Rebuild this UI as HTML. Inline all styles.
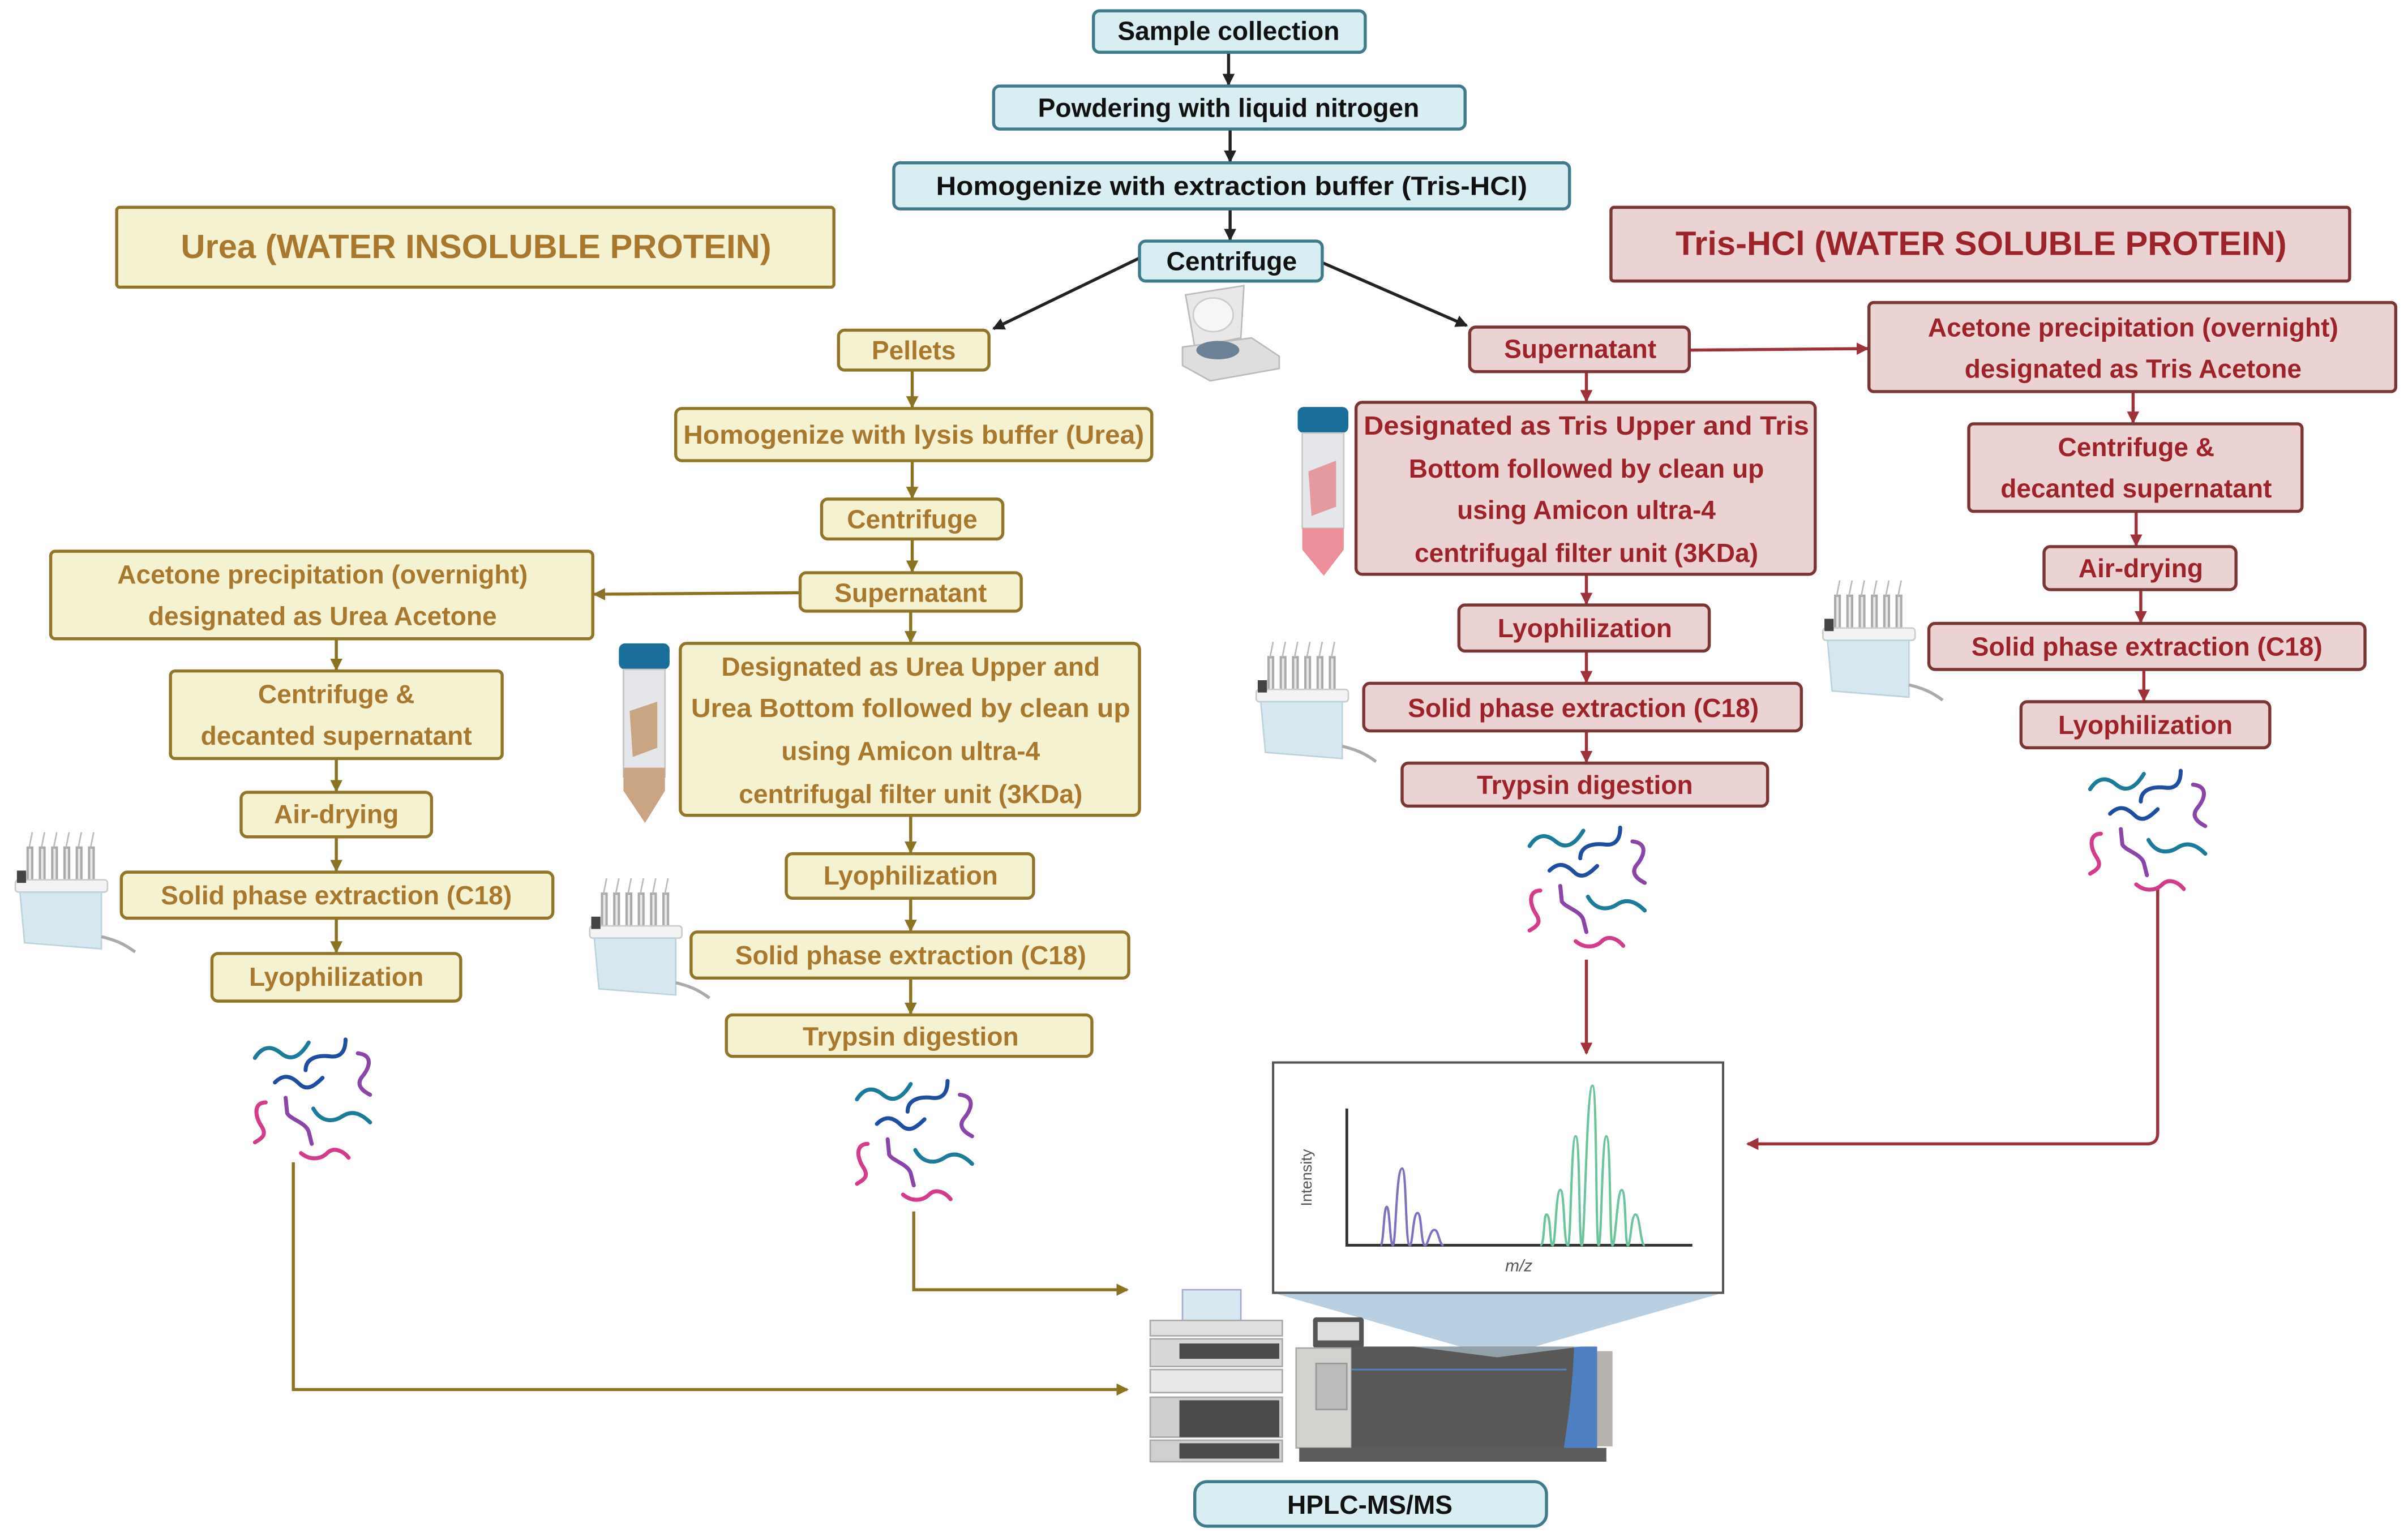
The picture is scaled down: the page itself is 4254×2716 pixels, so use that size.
<!DOCTYPE html>
<html><head><meta charset="utf-8"><style>
html,body{margin:0;padding:0;background:#fff}
svg{display:block}
text{font-family:"Liberation Sans",sans-serif;font-weight:bold;text-anchor:middle}
.b rect.bx{fill:#d8eef3;stroke:#3f7b8b;stroke-width:2}
.b text{fill:#111;font-size:17px}
.y rect.bx{fill:#f5f2d2;stroke:#917529;stroke-width:2}
.y text{fill:#a8782f;font-size:17px}
.r rect.bx{fill:#ecd3d3;stroke:#7a3535;stroke-width:2}
.r text{fill:#9b2329;font-size:17px}
</style></head><body>
<svg width="4254" height="2716" viewBox="0 0 1568 1001" xmlns="http://www.w3.org/2000/svg">
<defs>
<marker id="ak" markerWidth="8" markerHeight="8" refX="7" refY="4" orient="auto" markerUnits="userSpaceOnUse"><path d="M0,0 L8,4 L0,8z" fill="#222"/></marker>
<marker id="ay" markerWidth="8" markerHeight="8" refX="7" refY="4" orient="auto" markerUnits="userSpaceOnUse"><path d="M0,0 L8,4 L0,8z" fill="#8b7324"/></marker>
<marker id="ar" markerWidth="8" markerHeight="8" refX="7" refY="4" orient="auto" markerUnits="userSpaceOnUse"><path d="M0,0 L8,4 L0,8z" fill="#a0303a"/></marker>
<g id="pep" fill="none" stroke-width="2.6" stroke-linecap="round">
<path d="M1,14 C6,6 12,6 18,11 S30,14 36,4" stroke="#1b7b98"/>
<path d="M34,22 C34,14 42,12 50,13 S60,8 60,2" stroke="#1f4ea0"/>
<path d="M68,11 C78,12 76,20 71,26 S72,36 76,38" stroke="#8a45a8"/>
<path d="M14,30 C20,24 25,26 30,31 S40,32 45,27" stroke="#1f4ea0"/>
<path d="M8,43 C0,43 1,52 5,58 S6,66 1,69" stroke="#d43b8a"/>
<path d="M21,40 L22,50 C24,54 34,56 36,62 L38,70" stroke="#8a45a8"/>
<path d="M39,47 C44,56 52,56 58,52 S70,50 76,56" stroke="#1b7b98"/>
<path d="M31,76 C37,81 44,80 48,76 S58,74 62,79" stroke="#d43b8a"/>
</g>
<g id="spe">
<g stroke="#aaa" stroke-width="1.5" fill="#e8e8e8">
<rect x="10" y="10" width="3" height="22"/><rect x="18" y="10" width="3" height="22"/><rect x="26" y="10" width="3" height="22"/><rect x="34" y="10" width="3" height="22"/><rect x="42" y="10" width="3" height="22"/><rect x="50" y="10" width="3" height="22"/>
</g>
<g stroke="#bbb" stroke-width="1" fill="none"><path d="M11,10 L13,0 M19,10 L21,0 M27,10 L29,0 M35,10 L37,0 M43,10 L45,0 M51,10 L53,0"/></g>
<rect x="2" y="31" width="60" height="8" rx="2" fill="#f3f3f3" stroke="#ccc"/>
<path d="M5,39 L58,39 L58,76 L8,72z" fill="#d7e7ef" stroke="#bcd3df"/>
<path d="M58,68 C66,70 72,72 80,78" stroke="#aaa" stroke-width="2" fill="none"/>
<rect x="3" y="25" width="6" height="8" fill="#444"/>
</g>
</defs>

<!-- black arrows -->
<g stroke="#222" stroke-width="2" fill="none">
<line x1="800" y1="34" x2="800" y2="55" marker-end="url(#ak)"/>
<line x1="801" y1="84" x2="801" y2="105" marker-end="url(#ak)"/>
<line x1="801" y1="136" x2="801" y2="156" marker-end="url(#ak)"/>
<line x1="742" y1="168" x2="647" y2="214" marker-end="url(#ak)"/>
<line x1="861" y1="171" x2="955" y2="212" marker-end="url(#ak)"/>
</g>
<!-- yellow arrows -->
<g stroke="#8b7324" stroke-width="2" fill="none">
<line x1="594" y1="241" x2="594" y2="265" marker-end="url(#ay)"/>
<line x1="594" y1="300" x2="594" y2="324" marker-end="url(#ay)"/>
<line x1="594" y1="351" x2="594" y2="372" marker-end="url(#ay)"/>
<line x1="593" y1="398" x2="593" y2="418" marker-end="url(#ay)"/>
<line x1="521" y1="386" x2="387" y2="387" marker-end="url(#ay)"/>
<line x1="593" y1="531" x2="593" y2="555" marker-end="url(#ay)"/>
<line x1="593" y1="585" x2="593" y2="606" marker-end="url(#ay)"/>
<line x1="593" y1="637" x2="593" y2="660" marker-end="url(#ay)"/>
<line x1="219" y1="416" x2="219" y2="436" marker-end="url(#ay)"/>
<line x1="219" y1="494" x2="219" y2="515" marker-end="url(#ay)"/>
<line x1="219" y1="545" x2="219" y2="567" marker-end="url(#ay)"/>
<line x1="219" y1="598" x2="219" y2="620" marker-end="url(#ay)"/>
<path d="M191,757 L191,905 L734,905" marker-end="url(#ay)"/>
<path d="M595,789 L595,840 L734,840" marker-end="url(#ay)"/>
</g>
<!-- red arrows -->
<g stroke="#a0303a" stroke-width="2" fill="none">
<line x1="1100" y1="228" x2="1216" y2="227" marker-end="url(#ar)"/>
<line x1="1033" y1="242" x2="1033" y2="261" marker-end="url(#ar)"/>
<line x1="1033" y1="374" x2="1033" y2="393" marker-end="url(#ar)"/>
<line x1="1033" y1="424" x2="1033" y2="444" marker-end="url(#ar)"/>
<line x1="1033" y1="476" x2="1033" y2="496" marker-end="url(#ar)"/>
<line x1="1033" y1="625" x2="1033" y2="686" marker-end="url(#ar)"/>
<line x1="1389" y1="255" x2="1389" y2="275" marker-end="url(#ar)"/>
<line x1="1391" y1="333" x2="1391" y2="355" marker-end="url(#ar)"/>
<line x1="1394" y1="384" x2="1394" y2="405" marker-end="url(#ar)"/>
<line x1="1396" y1="436" x2="1396" y2="456" marker-end="url(#ar)"/>
<path d="M1405,577 L1405,738 Q1405,745 1398,745 L1138,745" marker-end="url(#ar)"/>
</g>

<!-- blue boxes -->
<g class="b">
<rect class="bx" x="712" y="7" width="177" height="27" rx="4"/><text x="800" y="26">Sample collection</text>
<rect class="bx" x="647" y="56" width="307" height="28" rx="4"/><text x="800" y="76">Powdering with liquid nitrogen</text>
<rect class="bx" x="582" y="106" width="440" height="30" rx="4"/><text x="802" y="127" textLength="385" lengthAdjust="spacingAndGlyphs">Homogenize with extraction buffer (Tris-HCl)</text>
<rect class="bx" x="742" y="157" width="119" height="26" rx="4"/><text x="802" y="176">Centrifuge</text>
<rect class="bx" x="778" y="965" width="229" height="29" rx="8"/><text x="892" y="986">HPLC-MS/MS</text>
</g>

<!-- yellow boxes -->
<g class="y">
<rect class="bx" x="76" y="135" width="467" height="52" rx="2"/><text x="310" y="168" style="font-size:22px">Urea (WATER INSOLUBLE PROTEIN)</text>
<rect class="bx" x="546" y="215" width="98" height="26" rx="4"/><text x="595" y="234">Pellets</text>
<rect class="bx" x="440" y="266" width="310" height="34" rx="4"/><text x="595" y="289" textLength="300" lengthAdjust="spacingAndGlyphs">Homogenize with lysis buffer (Urea)</text>
<rect class="bx" x="535" y="325" width="118" height="26" rx="4"/><text x="594" y="344">Centrifuge</text>
<rect class="bx" x="521" y="373" width="144" height="25" rx="4"/><text x="593" y="392">Supernatant</text>
<rect class="bx" x="443" y="419" width="299" height="112" rx="4"/>
<text x="593" y="440">Designated as Urea Upper and</text>
<text x="593" y="467" textLength="286" lengthAdjust="spacingAndGlyphs">Urea Bottom followed by clean up</text>
<text x="593" y="495">using Amicon ultra-4</text>
<text x="593" y="523">centrifugal filter unit (3KDa)</text>
<rect class="bx" x="512" y="556" width="161" height="29" rx="4"/><text x="593" y="576">Lyophilization</text>
<rect class="bx" x="450" y="607" width="285" height="30" rx="4"/><text x="593" y="628">Solid phase extraction (C18)</text>
<rect class="bx" x="473" y="661" width="238" height="27" rx="4"/><text x="593" y="681">Trypsin digestion</text>
<rect class="bx" x="33" y="359" width="353" height="57" rx="3"/>
<text x="210" y="380">Acetone precipitation (overnight)</text>
<text x="210" y="407">designated as Urea Acetone</text>
<rect class="bx" x="111" y="437" width="216" height="57" rx="3"/>
<text x="219" y="458">Centrifuge &amp;</text>
<text x="219" y="485">decanted supernatant</text>
<rect class="bx" x="157" y="516" width="124" height="29" rx="4"/><text x="219" y="536">Air-drying</text>
<rect class="bx" x="79" y="568" width="281" height="30" rx="4"/><text x="219" y="589">Solid phase extraction (C18)</text>
<rect class="bx" x="138" y="621" width="162" height="31" rx="4"/><text x="219" y="642">Lyophilization</text>
</g>

<!-- red boxes -->
<g class="r">
<rect class="bx" x="1049" y="135" width="481" height="48" rx="2"/><text x="1290" y="166" style="font-size:22px">Tris-HCl (WATER SOLUBLE PROTEIN)</text>
<rect class="bx" x="957" y="213" width="143" height="29" rx="4"/><text x="1029" y="233">Supernatant</text>
<rect class="bx" x="883" y="262" width="299" height="112" rx="4"/>
<text x="1033" y="283" textLength="290" lengthAdjust="spacingAndGlyphs">Designated as Tris Upper and Tris</text>
<text x="1033" y="311">Bottom followed by clean up</text>
<text x="1033" y="338">using Amicon ultra-4</text>
<text x="1033" y="366">centrifugal filter unit (3KDa)</text>
<rect class="bx" x="950" y="394" width="163" height="30" rx="4"/><text x="1032" y="415">Lyophilization</text>
<rect class="bx" x="888" y="445" width="285" height="31" rx="4"/><text x="1031" y="467">Solid phase extraction (C18)</text>
<rect class="bx" x="913" y="497" width="238" height="28" rx="4"/><text x="1032" y="517">Trypsin digestion</text>
<rect class="bx" x="1217" y="197" width="343" height="58" rx="3"/>
<text x="1389" y="219">Acetone precipitation (overnight)</text>
<text x="1389" y="246">designated as Tris Acetone</text>
<rect class="bx" x="1282" y="276" width="217" height="57" rx="3"/>
<text x="1391" y="297">Centrifuge &amp;</text>
<text x="1391" y="324">decanted supernatant</text>
<rect class="bx" x="1331" y="356" width="125" height="28" rx="4"/><text x="1394" y="376">Air-drying</text>
<rect class="bx" x="1256" y="406" width="284" height="30" rx="4"/><text x="1398" y="427">Solid phase extraction (C18)</text>
<rect class="bx" x="1316" y="457" width="162" height="30" rx="4"/><text x="1397" y="478">Lyophilization</text>
</g>

<!-- peptides -->
<use href="#pep" x="165" y="675"/>
<use href="#pep" x="557" y="702"/>
<use href="#pep" x="995" y="537"/>
<use href="#pep" x="1360" y="500"/>

<!-- SPE devices -->
<use href="#spe" x="8" y="542"/>
<use href="#spe" x="382" y="572"/>
<use href="#spe" x="816" y="418"/>
<use href="#spe" x="1185" y="378"/>

<!-- tubes -->
<g>
<rect x="403" y="419" width="33" height="17" rx="4" fill="#1a6e9a"/>
<rect x="406" y="436" width="27" height="70" fill="#e4e6ea" stroke="#c8c8c8"/>
<path d="M410,463 L428,457 L428,487 L412,493z" fill="#c9a583"/>
<path d="M406,500 L433,500 L433,515 L420,536 L406,515z" fill="#c9a583"/>
</g>
<g>
<rect x="845" y="265" width="33" height="17" rx="4" fill="#1a6e9a"/>
<rect x="848" y="282" width="27" height="62" fill="#e4e6ea" stroke="#c8c8c8"/>
<path d="M852,307 L870,300 L870,330 L854,336z" fill="#e59aa0"/>
<path d="M848,344 L875,344 L875,358 L862,375 L848,358z" fill="#ec8f9a"/>
</g>
<!-- centrifuge -->
<g>
<path d="M772,192 L810,186 L808,220 L778,226z" fill="#e8e8e8" stroke="#bbb"/>
<ellipse cx="790" cy="205" rx="13" ry="11" fill="#f6f6f6" stroke="#ccc"/>
<path d="M770,226 L815,220 L833,232 L833,240 L788,248 L770,238z" fill="#dedede" stroke="#bbb"/>
<ellipse cx="793" cy="228" rx="14" ry="6" fill="#6b8195"/>
</g>

<!-- chart -->
<polygon points="829,842 1122,842 975,884" fill="#b8d0e2"/>
<rect x="829" y="692" width="293" height="150" fill="#fff" stroke="#555" stroke-width="1.5"/>
<path d="M877,722 L877,811 L1102,811" stroke="#333" stroke-width="1.8" fill="none"/>
<text x="854" y="767" transform="rotate(-90 854 767)" style="font-weight:normal;font-size:10px;fill:#555">Intensity</text>
<text x="989" y="828" style="font-weight:normal;font-style:italic;font-size:11px;fill:#555">m/z</text>
<path d="M899,811 C901,811 901,786 903,786 C905,786 905,811 907,811 C909,811 909,761 913,761 C916,761 915,811 918,811 C920,811 920,790 923,790 C926,790 925,811 928,811 C930,811 931,801 934,801 C937,801 937,811 940,811" stroke="#7e72c0" stroke-width="1.5" fill="none"/>
<path d="M1003,811 C1006,811 1005,791 1007,791 C1010,791 1009,811 1011,811 C1013,811 1013,775 1016,775 C1019,775 1018,811 1021,811 C1023,811 1023,740 1026,740 C1029,740 1028,811 1030,811 C1032,811 1033,707 1037,707 C1040,707 1039,811 1041,811 C1043,811 1043,740 1046,740 C1049,740 1048,811 1050,811 C1052,811 1053,775 1056,775 C1059,775 1058,811 1060,811 C1062,811 1062,791 1065,791 C1068,791 1068,811 1071,811" stroke="#6cc49c" stroke-width="1.5" fill="none"/>

<!-- HPLC -->
<g>
<rect x="770" y="840" width="38" height="20" fill="#d6e9f1" stroke="#aac"/>
<rect x="749" y="860" width="86" height="10" fill="#e0e0e0" stroke="#aaa"/>
<rect x="749" y="872" width="86" height="18" fill="#d8d8d8" stroke="#aaa"/>
<rect x="768" y="875" width="65" height="10" fill="#4a4a4a"/>
<rect x="749" y="892" width="86" height="15" fill="#e8e8e8" stroke="#aaa"/>
<rect x="749" y="910" width="86" height="26" fill="#cfcfcf" stroke="#aaa"/>
<rect x="768" y="912" width="65" height="24" fill="#4a4a4a"/>
<rect x="749" y="938" width="86" height="14" fill="#d0d0d0" stroke="#aaa"/>
<rect x="768" y="940" width="65" height="10" fill="#4a4a4a"/>
</g>
<!-- MS -->
<g>
<rect x="855" y="858" width="33" height="20" rx="2" fill="#555"/>
<rect x="858" y="861" width="27" height="12" fill="#ddd"/>
<rect x="844" y="878" width="36" height="65" fill="#d4d2cf" stroke="#aaa"/>
<rect x="857" y="888" width="20" height="30" fill="#bbb" stroke="#999"/>
<rect x="880" y="877" width="145" height="68" fill="#5a5856"/>
<line x1="880" y1="892" x2="1020" y2="892" stroke="#4e88c4" stroke-width="1"/>
<path d="M1025,877 L1040,877 L1040,945 L1018,945 C1022,920 1024,900 1025,877z" fill="#4e7fc0"/>
<rect x="1040" y="880" width="10" height="62" fill="#b5b2ae"/>
<rect x="846" y="943" width="200" height="9" fill="#5e5c5a"/>
<polygon points="920,877 1030,877 975,884" fill="#b8d0e2" opacity="0.6"/>
</g>
</svg>
</body></html>
